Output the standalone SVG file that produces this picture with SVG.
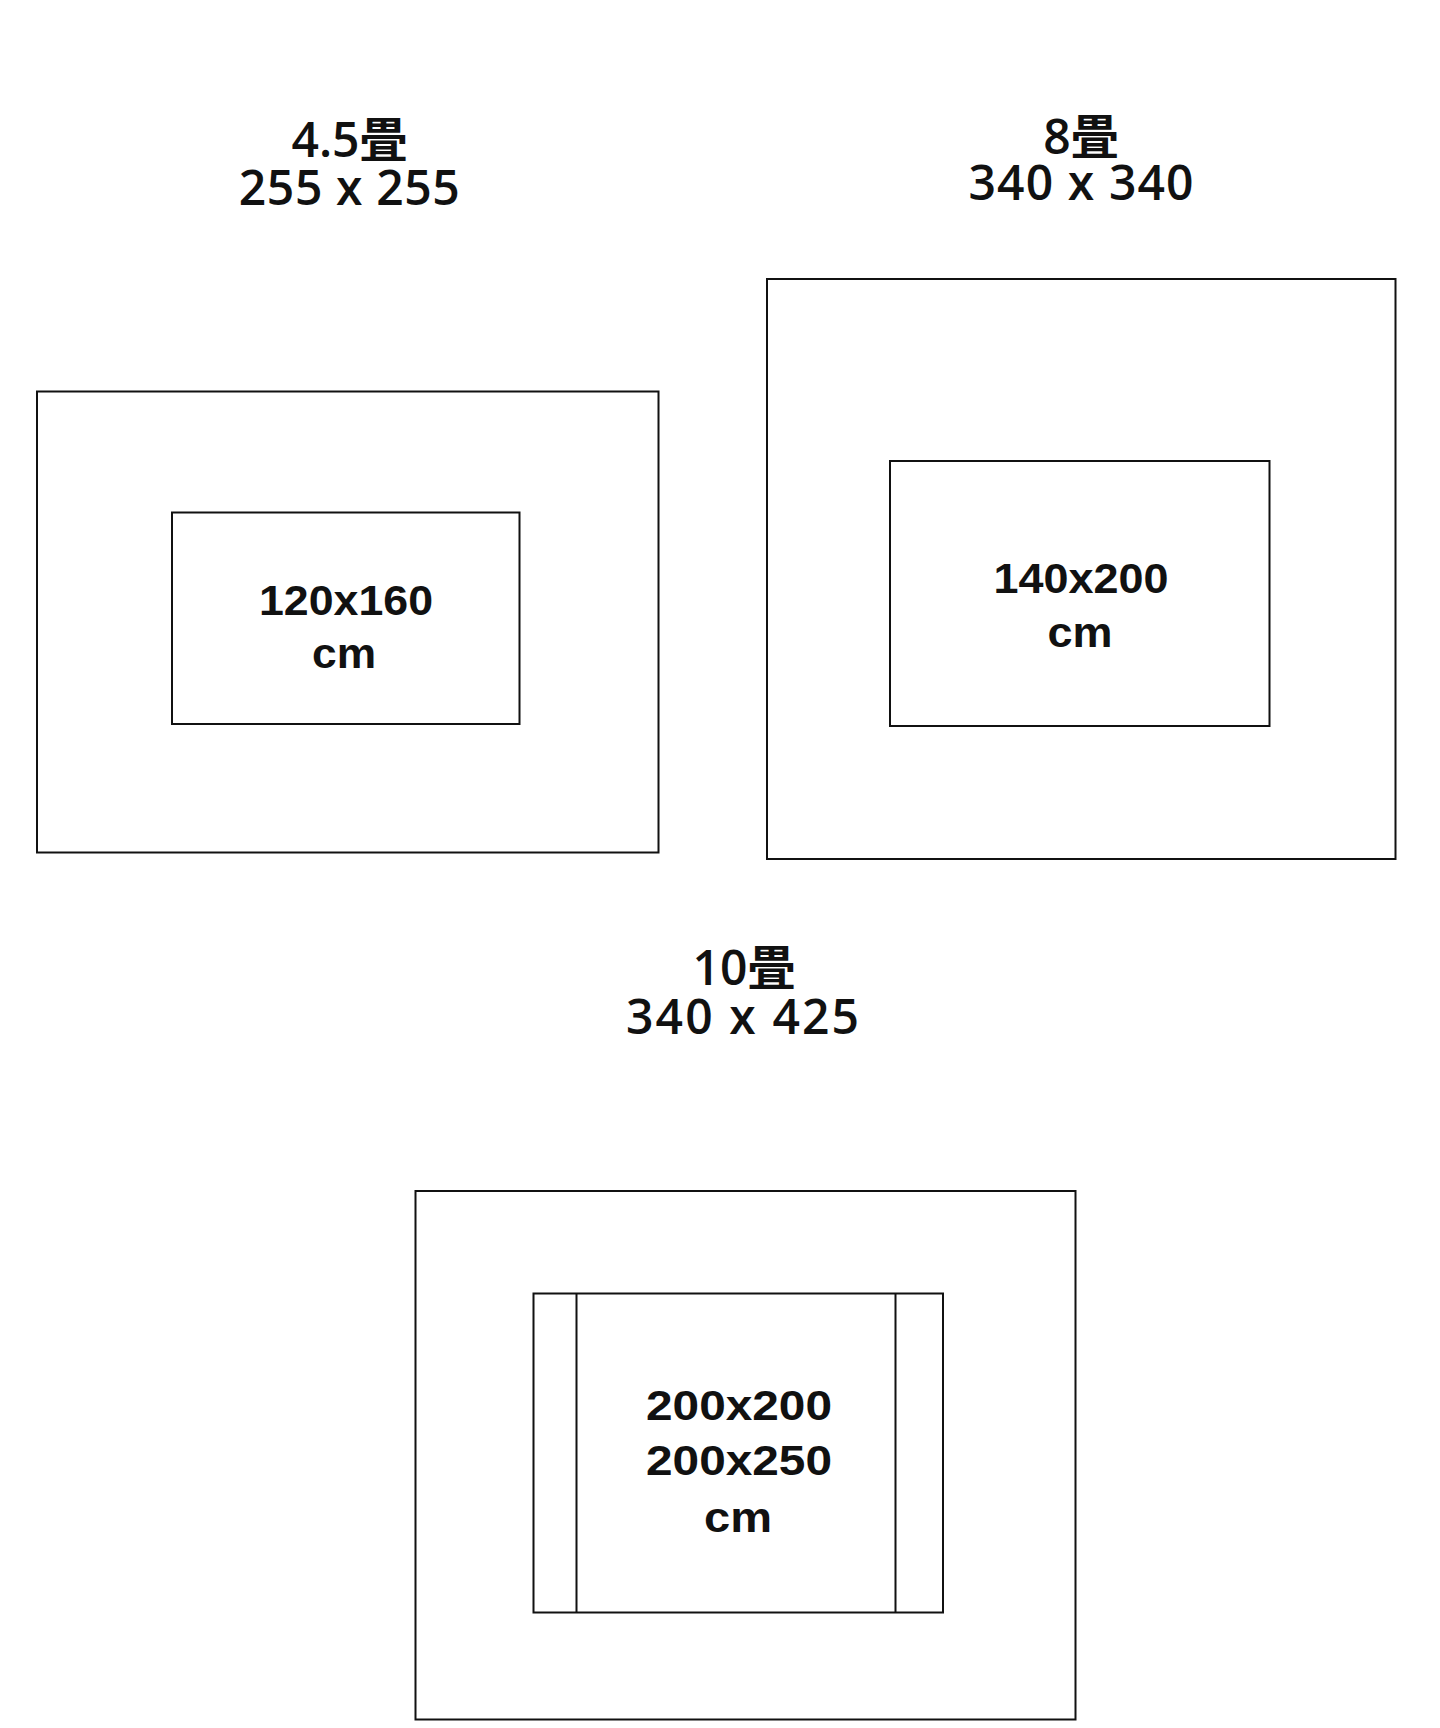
<svg xmlns="http://www.w3.org/2000/svg" width="1440" height="1728" viewBox="0 0 1440 1728">
<style>
.box{fill:none;stroke:#111;stroke-width:2}
.title{font-family:"Open Sans","Liberation Sans","Noto Sans CJK JP",sans-serif;font-weight:600;font-size:48px;fill:#111;text-anchor:middle}
.lbl{font-family:"Liberation Sans","DejaVu Sans",sans-serif;font-weight:bold;font-size:42px;fill:#111;text-anchor:middle}
</style>
<rect width="1440" height="1728" fill="#fff"/>
<g id="room-4-5">
<text class="title" x="349.5" y="156.5">4.5畳</text>
<text class="title" x="349.3" y="205" textLength="221" lengthAdjust="spacing">255 x 255</text>
<rect class="box" x="37" y="391.5" width="621.5" height="461"/>
</g>
<g id="rug-120x160">
<rect class="box" x="172" y="512.5" width="347.5" height="211.5"/>
<text class="lbl" x="346" y="615" textLength="174" lengthAdjust="spacingAndGlyphs">120x160</text>
<text class="lbl" x="344" y="668" textLength="64" lengthAdjust="spacingAndGlyphs">cm</text>
</g>
<g id="room-8">
<text class="title" x="1081" y="154">8畳</text>
<text class="title" x="1081" y="199.5" textLength="225" lengthAdjust="spacing">340 x 340</text>
<rect class="box" x="767" y="279" width="628.5" height="580"/>
</g>
<g id="rug-140x200">
<rect class="box" x="890" y="461" width="379.5" height="265"/>
<text class="lbl" x="1081" y="593" textLength="175" lengthAdjust="spacingAndGlyphs">140x200</text>
<text class="lbl" x="1080" y="646.6" textLength="65" lengthAdjust="spacingAndGlyphs">cm</text>
</g>
<g id="room-10">
<text class="title" x="744" y="984.5">10畳</text>
<text class="title" x="742.5" y="1034" textLength="233" lengthAdjust="spacing">340 x 425</text>
<rect class="box" x="415.5" y="1191" width="660" height="528.5"/>
</g>
<g id="rug-200x200">
<rect class="box" x="533.5" y="1293.5" width="409.5" height="319"/>
<line class="box" x1="576.5" y1="1293.5" x2="576.5" y2="1612.5"/>
<line class="box" x1="895.5" y1="1293.5" x2="895.5" y2="1612.5"/>
<text class="lbl" x="739" y="1419.5" textLength="186" lengthAdjust="spacingAndGlyphs">200x200</text>
<text class="lbl" x="739" y="1475.2" textLength="186" lengthAdjust="spacingAndGlyphs">200x250</text>
<text class="lbl" x="738" y="1531.5" textLength="68" lengthAdjust="spacingAndGlyphs">cm</text>
</g>
<g id="connectors"/>
</svg>
